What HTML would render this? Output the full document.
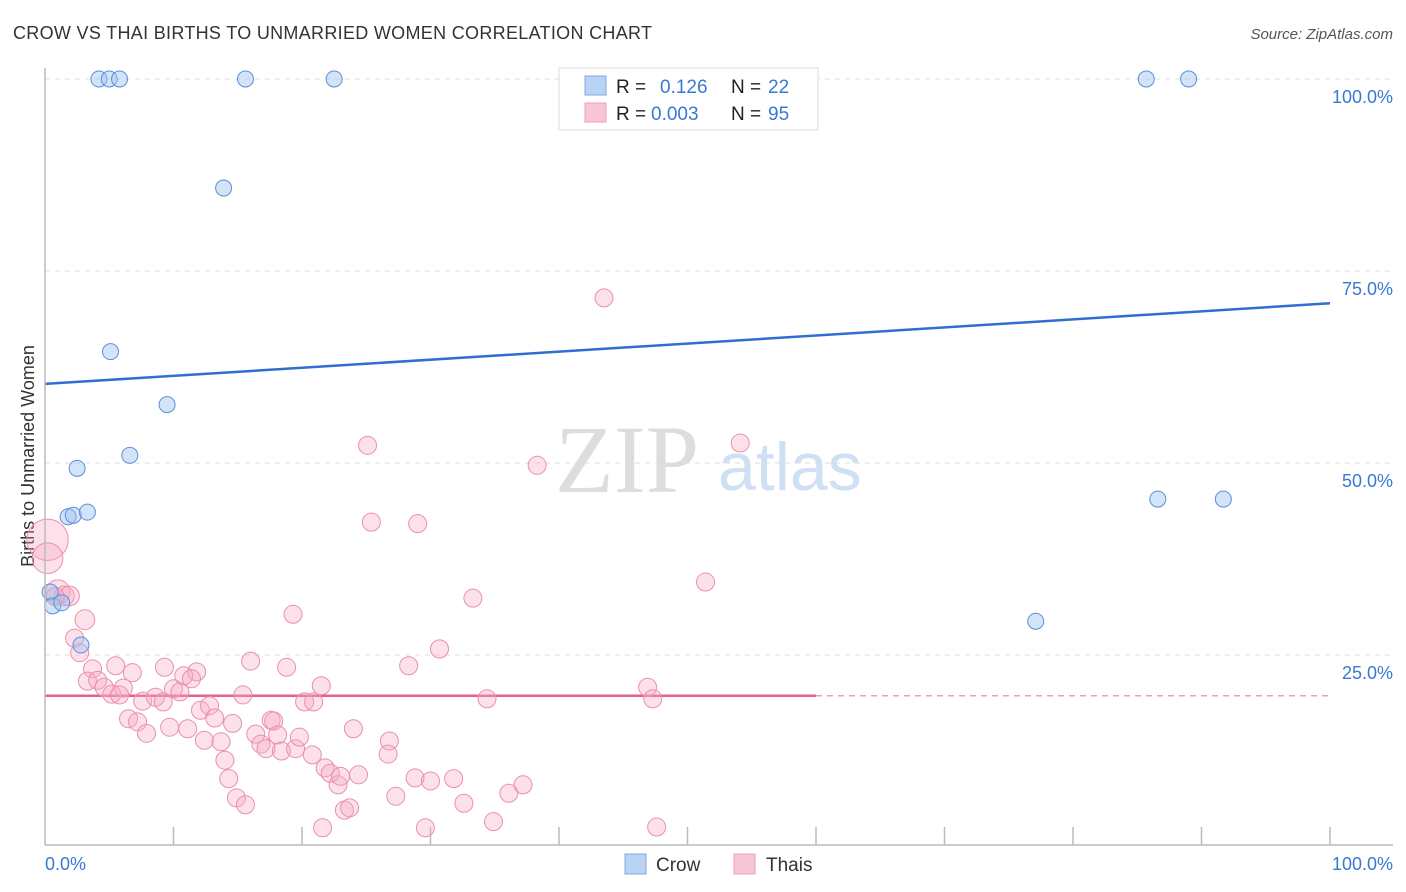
<!DOCTYPE html>
<html><head><meta charset="utf-8"><style>
body{margin:0;background:#fff;font-family:"Liberation Sans",sans-serif}
svg{display:block}
</style></head><body>
<svg id="chart" width="1406" height="892">
<text x="13" y="39" font-size="18" fill="#333" textLength="639">CROW VS THAI BIRTHS TO UNMARRIED WOMEN CORRELATION CHART</text>
<text x="1393" y="39" font-size="15" fill="#555" font-style="italic" text-anchor="end">Source: ZipAtlas.com</text>
<text transform="translate(34,456) rotate(-90)" font-size="18" fill="#333" text-anchor="middle">Births to Unmarried Women</text>
<text x="555" y="492" font-size="96" fill="#ddd" font-family="Liberation Serif,serif">ZIP</text>
<text x="718" y="490" font-size="68" fill="#cfe0f5">atlas</text>
<g id="grid"></g><g id="trend"></g><g id="pts"></g>
<line x1="45" y1="845" x2="1393" y2="845" stroke="#bbb" stroke-width="1.5"/>
<line x1="45" y1="68" x2="45" y2="845" stroke="#bbb" stroke-width="1.5"/>
<text x="45" y="870" font-size="18" fill="#3a78d4">0.0%</text>
<text x="1393" y="870" font-size="18" fill="#3a78d4" text-anchor="end">100.0%</text>
<g>
<rect x="559" y="68" width="259" height="62" fill="#fff" stroke="#ddd"/>
<rect x="585" y="76" width="21" height="19" fill="#b9d3f5" stroke="#7fa8e0"/>
<rect x="585" y="103" width="21" height="19" fill="#f9c6d5" stroke="#eba0b6"/>
<text x="616" y="93" font-size="19" fill="#222">R = </text><text x="660" y="93" font-size="19" fill="#3a78d4">0.126</text>
<text x="731" y="93" font-size="19" fill="#222">N = </text><text x="768" y="93" font-size="19" fill="#3a78d4">22</text>
<text x="616" y="120" font-size="19" fill="#222">R = </text><text x="651" y="120" font-size="19" fill="#3a78d4">0.003</text>
<text x="731" y="120" font-size="19" fill="#222">N = </text><text x="768" y="120" font-size="19" fill="#3a78d4">95</text>
</g>
<g>
<rect x="625" y="854" width="21" height="20" fill="#b9d3f5" stroke="#7fa8e0"/>
<text x="656" y="871" font-size="19" fill="#333">Crow</text>
<rect x="734" y="854" width="21" height="20" fill="#f9c6d5" stroke="#eba0b6"/>
<text x="766" y="871" font-size="19" fill="#333">Thais</text>
</g>
</svg>
<script>
const yTicks=[100,75,50,25];
const yTickLabels=["100.0%","75.0%","50.0%","25.0%"];
const xTicks=[10,20,30,40,50,60,70,80,90,100];
const crowX=[4.2,5.0,5.8,15.6,22.5,85.7,89.0,13.9,5.1,9.5,6.6,2.5,1.8,2.2,3.3,0.4,0.6,1.3,2.8,86.6,91.7,77.1];
const crowY=[100,100,100,100,100,100,100,85.8,64.5,57.6,51.0,49.3,43.0,43.2,43.6,33.2,31.4,31.8,26.3,45.3,45.3,29.4];
const thaiX=[43.5,25.1,38.3,54.1,25.4,29.0,51.4,33.3,19.3,30.7,28.3,34.4,46.9,47.3,0.2,0.2,1.0,1.5,1.9,3.1,2.3,2.7,3.7,5.5,6.8,9.3,11.8,16.0,18.8,21.5,3.3,4.1,4.6,5.2,6.1,5.8,7.6,8.6,9.2,10.0,10.5,10.8,11.4,15.4,20.2,20.9,6.5,7.2,7.9,9.7,11.1,12.1,12.8,13.2,14.6,12.4,13.7,14.0,14.3,14.9,15.6,16.4,16.8,17.2,17.6,17.8,18.1,18.4,19.5,19.8,20.8,21.8,22.2,22.8,23.0,24.0,24.4,26.8,26.7,27.3,28.8,30.0,31.8,32.6,34.9,36.1,37.2,21.6,23.3,23.7,29.6,47.6,0.8];
const thaiY=[71.5,52.3,49.7,52.6,42.3,42.1,34.5,32.4,30.3,25.8,23.6,19.3,20.8,19.3,40.0,37.6,33.2,32.7,32.7,29.6,27.2,25.3,23.2,23.6,22.7,23.4,22.8,24.2,23.4,21.0,21.6,21.7,20.8,19.9,20.7,19.8,19.0,19.5,18.9,20.6,20.2,22.3,21.9,19.8,18.9,18.9,16.7,16.3,14.8,15.6,15.4,17.8,18.4,16.8,16.1,13.9,13.7,11.3,8.9,6.4,5.5,14.7,13.4,12.8,16.5,16.4,14.6,12.5,12.8,14.3,12.0,10.3,9.6,8.1,9.2,15.4,9.4,13.8,12.1,6.6,9.0,8.6,8.9,5.7,3.3,7.0,8.1,2.5,4.8,5.1,2.5,2.6,32.6];
const thaiSize=[1,1,1,1,1,1,1,1,1,1,1,1,1,1,2.3,1.7,1.35,1.1,1.1,1.1,1,1,1,1,1,1,1,1,1,1];
const crowTrend=[60.3,70.8];
const thaiTrend=[19.7,19.7];
const X0=45,X1=1330,Y0=847,Y100=79;
const sx=v=>X0+(X1-X0)*v/100, sy=v=>Y0+(Y100-Y0)*v/100;
const NS="http://www.w3.org/2000/svg";
function mk(tag,at,parent){const e=document.createElementNS(NS,tag);for(const k in at)e.setAttribute(k,at[k]);document.getElementById(parent).appendChild(e);return e;}
yTicks.forEach((t,i)=>{
 const l=mk('line',{x1:45,x2:1393,y1:sy(t),y2:sy(t),stroke:'#ddd','stroke-dasharray':'5,5'},'grid');
 
 
 const tx=mk('text',{x:1393,y:sy(t)+24,'font-size':18,fill:'#3a78d4','text-anchor':'end'},'grid');
 tx.textContent=yTickLabels[i];
 
 
});
xTicks.forEach(t=>{
 const l=mk('line',{x1:sx(t),x2:sx(t),y1:827,y2:845,stroke:'#bbb','stroke-width':1.5},'grid');
 
 
});
let b=mk('line',{x1:sx(0),y1:sy(crowTrend[0]),x2:sx(100),y2:sy(crowTrend[1]),stroke:'#2f6fd0','stroke-width':2.5},'trend');


let p=mk('line',{x1:sx(0),y1:sy(thaiTrend[0]),x2:sx(60),y2:sy(thaiTrend[0]+(thaiTrend[1]-thaiTrend[0])*0.6),stroke:'#e5608e','stroke-width':2.5},'trend');


let pd=mk('line',{x1:sx(60),y1:sy(thaiTrend[0]),x2:sx(100),y2:sy(thaiTrend[1]),stroke:'#eaa0b8','stroke-width':1.5,'stroke-dasharray':'6,5'},'trend');


thaiX.forEach((x,i)=>{
 const c=mk('circle',{cx:sx(x),cy:sy(thaiY[i]),r:9*(thaiSize[i]||1),fill:'rgba(246,170,195,0.35)',stroke:'#ea8fae','stroke-width':1},'pts');
 
 
});
crowX.forEach((x,i)=>{
 const c=mk('circle',{cx:sx(x),cy:sy(crowY[i]),r:8,fill:'rgba(160,195,240,0.45)',stroke:'#5a8fd8','stroke-width':1},'pts');
 
 
});
</script>
</body></html>
